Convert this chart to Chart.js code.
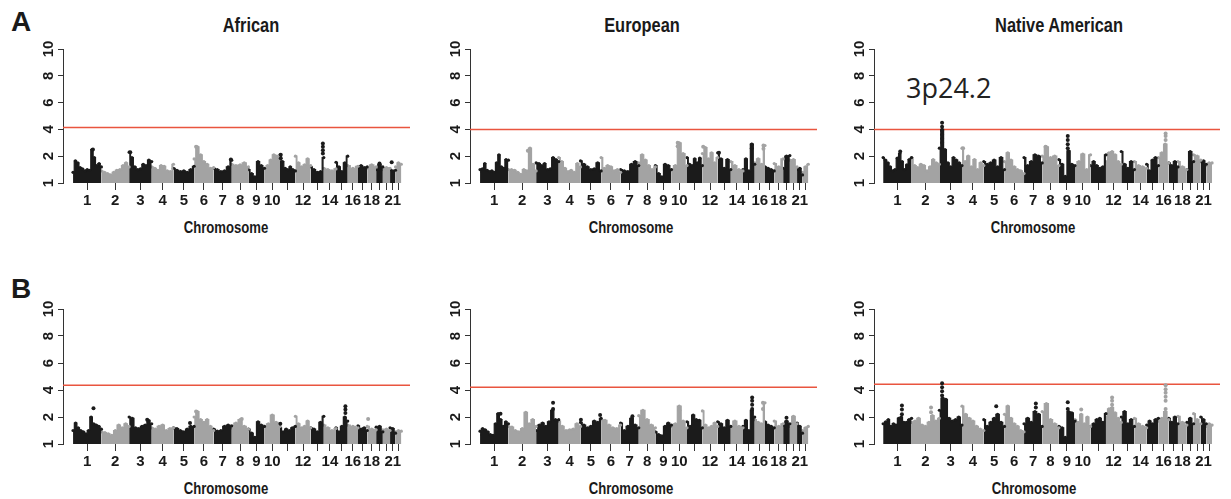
<!DOCTYPE html>
<html>
<head>
<meta charset="utf-8">
<script src="https://cdn.jsdelivr.net/npm/chart.js@4.4.1/dist/chart.umd.min.js"></script>
<style>
  html, body { margin: 0; padding: 0; background: #fff; }
  body { position: relative; width: 1231px; height: 499px; overflow: hidden;
         font-family: 'Liberation Sans', Arial, sans-serif; color: #1a1a1a; }
  canvas { position: absolute; }
  .t { position: absolute; white-space: nowrap; font-weight: bold; transform: translate(-50%, -50%) scaleX(0.82); }
  .ttl { font-size: 20px; }
  .ax  { font-size: 16px; }
  .pl  { position: absolute; font-weight: bold; font-size: 28px; line-height: 1; }
  .ann { position: absolute; font-family: 'Open Sans', sans-serif; font-size: 27px; line-height: 1; color: #222; }
</style>
</head>
<body>

<div class="pl" style="left:11px;top:8px">A</div>
<div class="pl" style="left:11px;top:275px">B</div>

<div class="t ttl" style="left:251px;top:25px">African</div>
<div class="t ttl" style="left:642px;top:25px">European</div>
<div class="t ttl" style="left:1059px;top:25px">Native American</div>

<div class="ann" style="left:906px;top:74px">3p24.2</div>

<div class="t ax" style="left:226px;top:228px">Chromosome</div>
<div class="t ax" style="left:631px;top:228px">Chromosome</div>
<div class="t ax" style="left:1033px;top:228px">Chromosome</div>
<div class="t ax" style="left:226px;top:489px">Chromosome</div>
<div class="t ax" style="left:631px;top:489px">Chromosome</div>
<div class="t ax" style="left:1034px;top:489px">Chromosome</div>

<canvas id="afrA" width="384" height="178" style="left:30px;top:35px"></canvas>
<canvas id="eurA" width="384" height="178" style="left:437px;top:35px"></canvas>
<canvas id="natA" width="383" height="178" style="left:841px;top:35px"></canvas>
<canvas id="afrB" width="384" height="179" style="left:30px;top:295px"></canvas>
<canvas id="eurB" width="384" height="179" style="left:437px;top:295px"></canvas>
<canvas id="natB" width="383" height="179" style="left:841px;top:295px"></canvas>

<script>
/* ── genome layout (hg19 chromosome lengths, Mb) ─────────────────────────── */
const CHR_LEN = [249,243,198,191,181,171,159,146,141,136,135,134,115,107,103,90,81,78,59,63,48,51];
const X_TICK_LABELS = ['1','2','3','4','5','6','7','8','9','10','','12','','14','','16','','18','','','21',''];
const Y_TICK_VALS   = [0, 2, 4, 6, 8, 10];
const Y_TICK_LABELS = ['1','2','4','6','8','10'];

/* ── significance thresholds (red lines) ─────────────────────────────────── */
const THR_AFR_A = 4.15, THR_EUR_A = 4.0, THR_NAT_A = 4.0;
const THR_AFR_B = 4.35, THR_EUR_B = 4.2, THR_NAT_B = 4.42;

/* ── upper envelope of the -log10(p) cloud, per chromosome ───────────────── */
const AFR_A = [
  [0.8,1.65,1.5,1.15,1.05,0.9,1.0,0.95,2.5,1.9,1.3,1.45,1.2],
  [0.9,0.8,0.7,0.6,0.8,0.95,1.0,1.3,1.5,1.2],
  [2.3,1.9,1.2,1.0,1.05,1.4,1.3,1.7,1.6],
  [1.2,1.1,0.95,1.3,1.25,0.9,0.85,1.4],
  [1.1,0.95,0.85,0.9,0.8,1.0,1.25],
  [1.8,2.7,2.1,1.6,1.4,1.1,1.15],
  [1.1,1.0,0.85,0.9,1.2,1.7],
  [1.4,1.3,1.35,1.5,1.2],
  [1.0,0.7,0.45,1.6,1.3,1.1],
  [1.1,1.3,1.7,2.1,2.0,1.8],
  [2.1,1.6,1.1,1.0,1.2,1.0,0.9],
  [2.0,1.5,1.2,1.35,1.8,1.3],
  [1.2,1.0,0.8,0.85,1.9],
  [1.1,1.0,0.9,1.05],
  [1.55,1.2,0.85,1.5,2.0],
  [1.3,1.1,1.25],
  [1.2,1.3,1.15,1.2],
  [1.1,1.35,1.2],
  [1.0,1.4,1.2],
  [1.0,1.15,1.1],
  [1.0,0.9,0.95],
  [1.2,1.5,1.4]
];
const EUR_A = [
  [1.0,1.05,1.45,0.95,0.85,0.9,0.8,1.5,2.1,1.2,1.1,1.75,1.7],
  [1.0,1.0,0.95,0.8,0.65,1.0,0.9,2.6,1.4,0.9],
  [1.5,1.45,1.3,1.45,1.0,1.05,1.9,1.75,1.6],
  [1.9,1.6,1.1,0.85,0.95,0.8,1.45,1.2],
  [1.65,1.4,1.2,1.0,1.05,1.5,0.9],
  [1.9,1.1,1.3,1.2,0.9,1.0,0.8],
  [1.0,0.9,0.85,1.4,1.6,1.3],
  [1.5,2.1,1.7,1.3,1.0,1.2],
  [1.3,0.7,0.45,1.4,1.3,1.0],
  [1.0,1.3,3.0,2.2,1.3],
  [1.9,1.4,1.3,1.8,1.5,1.85,1.3],
  [2.2,2.65,1.8,2.25,1.5,1.9],
  [2.25,1.8,1.1,1.75,1.0],
  [1.6,1.3,1.0,0.9],
  [1.0,1.8,0.9,2.9,1.4],
  [1.5,1.8,1.4,2.8],
  [1.2,1.1,1.0,0.9],
  [1.45,1.2,1.8],
  [1.1,2.0,2.05],
  [1.7,1.75,1.2],
  [1.0,1.1,0.6],
  [0.8,1.2,1.4]
];
const NAT_A = [
  [1.9,1.7,1.5,1.2,0.9,1.0,1.85,2.2,1.6,1.0,1.35,1.75,1.9],
  [1.9,1.3,1.15,1.4,1.3,0.9,1.2,1.75,1.5,1.4],
  [2.6,4.0,2.5,1.5,1.2,1.9,1.7,1.5,1.3],
  [2.6,1.6,2.0,1.2,1.75,1.0,1.5,1.3],
  [1.6,1.4,1.5,1.7,1.2,1.9,1.0],
  [1.6,2.25,1.7,1.2,1.0,0.9,0.7],
  [1.9,1.3,1.6,2.1,2.0,1.5],
  [2.0,2.7,1.9,2.0,1.3],
  [1.75,1.4,0.5,2.4,1.4,1.3],
  [1.25,1.6,2.15,1.0,2.1],
  [1.3,1.6,1.3,1.1,1.2,2.1],
  [1.6,2.25,2.35,2.1,1.6,1.4],
  [2.35,1.4,1.1,1.6,1.0],
  [1.6,1.3,1.2,1.1],
  [1.4,0.9,1.7,1.9,1.3],
  [1.9,2.25,2.9,1.5],
  [1.5,1.3,1.6,1.2],
  [1.6,1.2,1.0],
  [1.0,2.35,1.6],
  [2.1,2.0,1.7],
  [1.6,1.65,1.4],
  [1.3,1.5,1.5]
];
const AFR_B = [
  [1.0,1.55,1.2,1.0,0.9,0.75,1.0,2.0,1.5,1.4,1.3,1.1],
  [0.9,0.85,0.75,0.65,1.0,1.4,1.2,1.5,1.3],
  [2.0,1.9,1.2,1.15,1.3,1.4,1.75,1.5],
  [1.2,1.1,1.3,1.4,1.0,1.15,1.2],
  [1.2,1.15,1.0,0.9,1.1,1.3,1.3],
  [2.0,2.4,1.8,1.6,1.8,1.3,1.0],
  [1.1,0.95,1.0,1.3,1.4,1.35],
  [1.2,1.55,1.8,1.3,1.1],
  [1.1,0.8,0.5,1.65,1.4,1.3],
  [1.3,1.5,2.15,1.6,1.3],
  [1.2,0.9,1.1,1.0,1.2,1.3],
  [2.05,1.5,1.2,1.3,1.7,1.2],
  [1.2,1.1,0.9,1.6,2.05],
  [1.4,1.2,1.0,1.15],
  [1.2,0.9,1.3,2.0,1.7],
  [1.4,1.3,1.2],
  [1.35,1.1,1.2,1.0],
  [1.3,1.1,1.05],
  [1.25,1.3,0.9],
  [1.05,1.1,1.0],
  [1.2,1.15,0.8],
  [0.9,1.0,0.95]
];
const EUR_B = [
  [0.95,1.15,1.05,0.9,0.7,0.65,1.5,2.25,1.8,1.3,1.65,1.5],
  [1.3,1.25,1.0,0.9,1.15,2.35,1.5,1.8,1.3],
  [1.0,1.4,1.55,1.3,1.65,2.5,1.8,1.8],
  [1.7,1.3,1.0,1.05,1.1,1.5,1.3],
  [1.6,1.4,1.2,1.3,1.7,1.6,1.9],
  [1.8,1.75,1.4,1.2,1.15,1.4],
  [1.55,1.0,1.3,1.9,1.4,1.2],
  [2.1,2.5,1.8,1.4,1.2],
  [0.9,0.7,0.6,1.3,1.55,1.4],
  [1.3,1.5,2.8,1.7,1.2],
  [1.65,1.3,2.15,1.8,1.75,1.2],
  [2.45,1.4,1.2,1.3,1.55,1.3],
  [1.65,1.5,1.2,1.75,1.3],
  [1.3,1.7,1.3,1.2],
  [1.3,1.75,1.0,2.5,2.0],
  [1.8,1.6,1.5,3.05],
  [1.65,1.4,1.3,1.2],
  [1.7,1.3,1.5],
  [1.4,1.7,1.5],
  [1.3,2.05,1.5],
  [1.55,1.3,0.8],
  [1.0,1.2,1.3]
];
const NAT_B = [
  [1.5,1.65,1.8,1.3,1.5,1.4,1.9,2.0,1.6,1.6,1.8,1.9],
  [1.6,1.7,1.9,1.4,1.3,1.6,2.1,1.7,1.9],
  [2.5,3.4,3.3,1.9,1.7,1.8,2.0,1.4],
  [2.8,2.2,1.9,1.7,1.3,1.1,1.0],
  [1.8,1.3,1.6,1.9,2.2,1.6,1.3],
  [2.2,2.8,1.9,1.5,1.3,1.0,0.9],
  [1.5,1.9,1.6,2.4,2.2,1.3],
  [2.4,3.0,1.8,1.5,1.2],
  [1.3,1.2,0.5,2.4,2.3,1.7],
  [1.8,1.6,2.2,1.5,2.0,1.3],
  [1.3,1.5,1.8,1.9,1.6,2.25],
  [2.0,2.6,2.7,2.3,1.9,1.6],
  [2.0,2.4,1.5,1.8,1.3],
  [1.9,1.5,1.3,1.2],
  [1.4,1.7,1.5,1.8,1.9],
  [1.7,1.9,2.4,1.8],
  [1.9,1.6,2.0,1.5],
  [2.05,1.6,1.4],
  [1.6,1.9,1.5],
  [2.25,1.8,1.5],
  [2.0,1.8,1.5],
  [1.3,1.5,1.4]
];

/* ── isolated top SNPs: [chromosome, fraction along chromosome, -log10 p] ── */
const AFR_A_HITS = [[1,0.7,2.5],[3,0.05,2.3],[6,0.1,2.7],[7,0.95,1.75],[11,0.05,1.85],[11,0.05,2.1],
  [13,0.93,2.2],[13,0.93,2.45],[13,0.93,2.7],[13,0.93,2.95],[19,0.5,1.45],[21,0.3,1.55]];
const EUR_A_HITS = [[2,0.7,2.4],[10,0.4,2.75],[10,0.4,3.0],[12,0.05,2.7],[13,0.1,2.25],
  [15,0.75,2.6],[15,0.75,2.85],[16,0.85,2.55],[16,0.85,2.8]];
const NAT_A_HITS = [[1,0.6,2.35],[3,0.12,3.0],[3,0.12,3.3],[3,0.12,3.6],[3,0.12,3.9],[3,0.12,4.2],[3,0.12,4.5],
  [4,0.05,2.6],[8,0.2,2.7],[9,0.55,2.6],[9,0.55,2.9],[9,0.55,3.2],[9,0.55,3.5],
  [16,0.7,3.2],[16,0.7,3.5],[16,0.7,3.7]];
const AFR_B_HITS = [[1,0.72,2.65],[3,0.8,1.8],[5,0.8,1.55],[6,0.1,2.4],[8,0.6,1.85],[11,0.02,1.5],
  [15,0.8,2.3],[15,0.8,2.55],[15,0.8,2.8],[18,0.1,1.85]];
const EUR_B_HITS = [[1,0.72,2.25],[3,0.75,2.6],[3,0.75,3.05],[5,0.02,1.8],[5,0.95,2.15],[7,0.65,2.05],
  [10,0.5,2.5],[15,0.78,2.6],[15,0.78,2.9],[15,0.78,3.2],[15,0.78,3.45],[16,0.8,2.6],[16,0.8,3.05],[19,0.5,1.95]];
const NAT_B_HITS = [[1,0.66,2.2],[1,0.66,2.55],[1,0.66,2.85],[2,0.7,2.35],[2,0.7,2.7],
  [3,0.12,3.6],[3,0.12,3.9],[3,0.12,4.2],[3,0.12,4.5],[5,0.6,2.8],[7,0.65,2.7],[7,0.65,3.0],
  [9,0.55,2.6],[9,0.55,3.1],[10,0.4,2.55],[12,0.4,2.9],[12,0.4,3.2],[12,0.4,3.45],
  [16,0.7,2.6],[16,0.7,3.2],[16,0.7,3.5],[16,0.7,3.8],[16,0.7,4.05],[16,0.7,4.35]];

/* ── plot ranges (Mb) ────────────────────────────────────────────────────── */
const X_RANGE_STD = [-88, 2955];
const X_RANGE_NAT = [-80, 2948];

const BLACK = '#1b1b1b';
const GREY  = '#a3a3a3';
const RED   = '#e9553f';
const AXIS  = '#333';
const FONT  = "'Liberation Sans', Arial, sans-serif";

const CHR_START = CHR_LEN.reduce((acc, l, i) => { acc.push(i ? acc[i - 1] + CHR_LEN[i - 1] : 0); return acc; }, []);
const CHR_MID   = CHR_LEN.map((l, i) => CHR_START[i] + l / 2);

function chrColor(c) { return c % 2 === 1 ? BLACK : GREY; }   // c is 1-based

/* ── buildPanel — one Manhattan plot ─────────────────────────────────────── */
function buildPanel(id, env, hits, thr, range) {
  const datasets = [];

  /* threshold line, drawn behind the points */
  datasets.push({
    type: 'line',
    data: [{ x: range[0], y: thr }, { x: range[1], y: thr }],
    borderColor: RED, borderWidth: 1.5, pointRadius: 0, fill: false, order: 5
  });

  env.forEach((vals, i) => {
    const clr = chrColor(i + 1);
    datasets.push({
      type: 'line',
      data: vals.map((v, k) => ({ x: CHR_START[i] + CHR_LEN[i] * k / (vals.length - 1), y: v })),
      borderColor: clr, backgroundColor: clr, fill: 'origin',
      stepped: 'middle', borderWidth: 1.2,
      pointRadius: 1.6, pointBackgroundColor: clr, pointBorderWidth: 0,
      order: 1
    });
  });

  datasets.push({
    type: 'scatter',
    data: hits.map(h => ({ x: CHR_START[h[0] - 1] + CHR_LEN[h[0] - 1] * h[1], y: h[2] })),
    pointBackgroundColor: hits.map(h => chrColor(h[0])),
    pointRadius: 2, pointBorderWidth: 0, showLine: false,
    order: 0
  });

  new Chart(document.getElementById(id), {
    type: 'scatter',
    data: { datasets },
    options: {
      responsive: false,
      animation: false,
      events: [],
      layout: { padding: { top: 14, left: 0, right: 0, bottom: 0 } },
      plugins: { legend: { display: false }, tooltip: { enabled: false } },
      scales: {
        x: {
          type: 'linear', min: range[0], max: range[1],
          afterBuildTicks: s => { s.ticks = CHR_MID.map(v => ({ value: v })); },
          afterFit: s => { s.height = 30; s.paddingLeft = 0; s.paddingRight = 0; },
          ticks: {
            autoSkip: false, maxRotation: 0, minRotation: 0, padding: 2,
            color: '#1a1a1a',
            font: { family: FONT, size: 15, weight: 'bold' },
            callback: (v, i) => X_TICK_LABELS[i]
          },
          grid: { drawOnChartArea: false, drawTicks: true, tickLength: 7, color: AXIS, lineWidth: 1 },
          border: { display: false }
        },
        y: {
          min: 0, max: 10,
          afterBuildTicks: s => { s.ticks = Y_TICK_VALS.map(v => ({ value: v })); },
          afterFit: s => { s.width = 33; s.paddingTop = 0; s.paddingBottom = 0; },
          ticks: {
            minRotation: 90, maxRotation: 90, crossAlign: 'center', padding: 1,
            color: '#1a1a1a',
            font: { family: FONT, size: 15, weight: 'bold' },
            callback: (v, i) => Y_TICK_LABELS[i]
          },
          grid: { drawOnChartArea: false, drawTicks: true, tickLength: 5, color: AXIS, lineWidth: 1 },
          border: { display: true, color: AXIS, width: 1 }
        }
      }
    }
  });
}

buildPanel('afrA', AFR_A, AFR_A_HITS, THR_AFR_A, X_RANGE_STD);
buildPanel('eurA', EUR_A, EUR_A_HITS, THR_EUR_A, X_RANGE_STD);
buildPanel('natA', NAT_A, NAT_A_HITS, THR_NAT_A, X_RANGE_NAT);
buildPanel('afrB', AFR_B, AFR_B_HITS, THR_AFR_B, X_RANGE_STD);
buildPanel('eurB', EUR_B, EUR_B_HITS, THR_EUR_B, X_RANGE_STD);
buildPanel('natB', NAT_B, NAT_B_HITS, THR_NAT_B, X_RANGE_NAT);
</script>
</body>
</html>
